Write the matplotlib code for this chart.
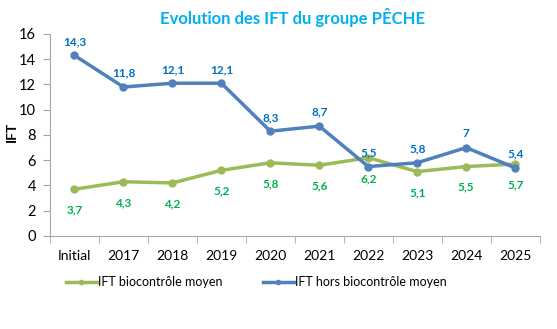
import matplotlib
matplotlib.use("Agg")
import matplotlib.pyplot as plt
import numpy as np

categories = ["Initial", "2017", "2018", "2019", "2020", "2021", "2022", "2023", "2024", "2025"]
bio = [3.7, 4.3, 4.2, 5.2, 5.8, 5.6, 6.2, 5.1, 5.5, 5.7]
hors = [14.3, 11.8, 12.1, 12.1, 8.3, 8.7, 5.5, 5.8, 7.0, 5.4]
bio_labels = ["3,7", "4,3", "4,2", "5,2", "5,8", "5,6", "6,2", "5,1", "5,5", "5,7"]
hors_labels = ["14,3", "11,8", "12,1", "12,1", "8,3", "8,7", "5,5", "5,8", "7", "5,4"]

plt.rcParams['font.family'] = ['Lato', 'DejaVu Sans']

fig = plt.figure(figsize=(5.57, 3.29), dpi=100)
ax = fig.add_axes([0.0898, 0.2827, 0.879, 0.614])

x = np.arange(len(categories))
green = "#9BBB59"
blue = "#4F81BD"
ax.plot(x, bio, color=green, lw=2.5, marker="o", ms=5, label="IFT biocontrôle moyen")
ax.plot(x, hors, color=blue, lw=2.5, marker="o", ms=5, label="IFT hors biocontrôle moyen")

for xi, v, t in zip(x, bio, bio_labels):
    ax.annotate(t, (xi, v), xytext=(0, -11), textcoords="offset points", ha="center", va="top",
                color="#00B050", fontsize=8.5, fontweight="bold")
for xi, v, t in zip(x, hors, hors_labels):
    ax.annotate(t, (xi, v), xytext=(0, 6), textcoords="offset points", ha="center", va="bottom",
                color="#0070C0", fontsize=8.5, fontweight="bold")

ax.set_xlim(-0.5, len(categories) - 0.5)
ax.set_ylim(0, 16)
ax.set_yticks(range(0, 17, 2))
ax.set_xticks(x)
ax.set_xticklabels(categories)
ax.set_xticks(np.arange(-0.5, len(categories), 1), minor=True)
ax.tick_params(axis="x", which="major", length=0, pad=10, labelsize=10)
ax.tick_params(axis="x", which="minor", length=5, color="#A6A6A6")
ax.tick_params(axis="y", length=5, color="#A6A6A6", labelsize=10.5, pad=5)
for s in ["top", "right"]:
    ax.spines[s].set_visible(False)
for s in ["left", "bottom"]:
    ax.spines[s].set_color("#A6A6A6")

fig.text(0.022, 0.60, "IFT", rotation=90, ha="center", va="center", fontsize=10, fontweight="bold")
fig.text(0.525, 0.948, "Evolution des IFT du groupe PÊCHE", ha="center", va="center",
         color="#00B0F0", fontsize=12, fontweight="bold")

fig.legend(loc="center", bbox_to_anchor=(0.46, 0.143), ncol=2, frameon=False, fontsize=9,
           handlelength=2.5, columnspacing=3.2, handletextpad=0.1, markerscale=0.6)

fig.savefig("out.png", dpi=100)
